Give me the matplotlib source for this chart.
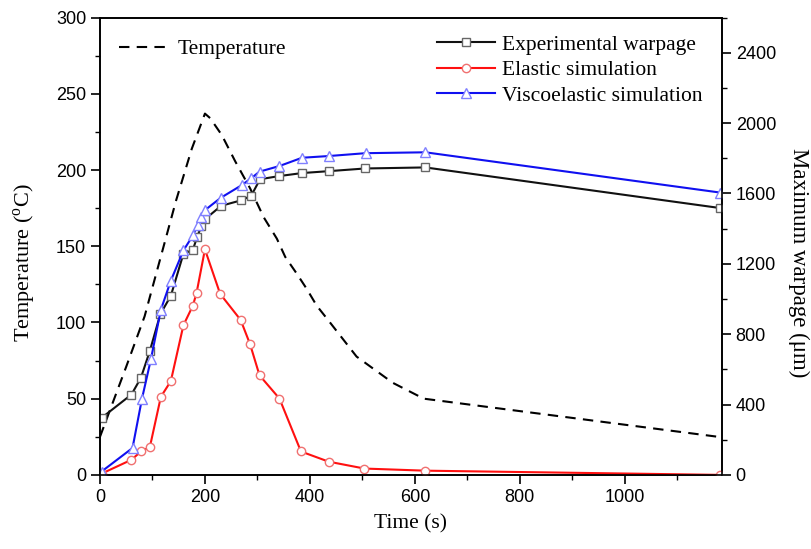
import numpy as np
import matplotlib
matplotlib.use("Agg")
import matplotlib.pyplot as plt
from matplotlib.ticker import MultipleLocator
from matplotlib.lines import Line2D

# temperature profile (left axis, degC)
temp_time = [0, 50, 85, 115, 145, 175, 200, 210, 232, 258, 286, 312, 337, 353, 375, 394, 413, 436, 489, 558, 617, 1182]
temp_val = [25, 71, 104, 142, 180, 214, 237, 234, 223, 205.5, 188, 169, 155, 143, 132, 122, 111, 101, 77.6, 60.4, 50, 24.8]

# warpage (right axis, um)
exp_time = [3, 60, 78, 95, 115, 135, 159, 177, 185, 193, 201, 231, 268, 288, 305, 342, 385, 437, 505, 620, 1182]
exp_warp = [324, 457, 552, 705, 914, 1018, 1257, 1279, 1352, 1413, 1456, 1530, 1560, 1586, 1681, 1699, 1716, 1727, 1742, 1748, 1517]

ela_time = [3, 60, 78, 95, 116, 135, 159, 177, 184, 200, 229, 268, 286, 304, 342, 383, 436, 504, 619, 1182]
ela_warp = [7, 86, 133, 158, 444, 533, 851, 962, 1034, 1282, 1029, 881, 743, 566, 434, 133, 75, 36, 24, 0]

vis_time = [3, 62, 80, 97, 116, 135, 159, 177, 186, 193, 200, 230, 270, 288, 304, 342, 385, 437, 506, 620, 1182]
vis_warp = [19, 153, 433, 657, 939, 1104, 1276, 1361, 1421, 1465, 1505, 1575, 1647, 1686, 1724, 1756, 1803, 1813, 1829, 1834, 1605]

plt.rcParams['mathtext.fontset'] = 'custom'
plt.rcParams['mathtext.rm'] = 'Liberation Serif'
serif = 'Liberation Serif'
sans = 'Liberation Sans'

fig = plt.figure(figsize=(8.11, 5.49), dpi=100)
ax = fig.add_axes([0.1233, 0.135, 0.7667, 0.833])
ax2 = ax.twinx()

ax.plot(temp_time, temp_val, color='black', lw=1.5, ls=(0, (5, 3.5)))

ax2.plot(exp_time, exp_warp, color='#111111', lw=1.5, marker='s', ms=5.5,
         mfc='white', mec='#666666', mew=1.0)
ax2.plot(ela_time, ela_warp, color='#ff1010', lw=1.5, marker='o', ms=6,
         mfc='white', mec='#f07070', mew=1.0)
ax2.plot(vis_time, vis_warp, color='#1010f0', lw=1.5, marker='^', ms=6.5,
         mfc='white', mec='#8080ff', mew=1.0)

ax.set_xlim(0, 1185)
ax.set_ylim(0, 300)
ax2.set_ylim(0, 2600)

ax.xaxis.set_major_locator(MultipleLocator(200))
ax.xaxis.set_minor_locator(MultipleLocator(100))
ax.yaxis.set_major_locator(MultipleLocator(50))
ax.yaxis.set_minor_locator(MultipleLocator(25))
ax2.yaxis.set_major_locator(MultipleLocator(400))
ax2.yaxis.set_minor_locator(MultipleLocator(200))

for a in (ax, ax2):
    a.tick_params(which='major', direction='out', length=6.5, width=1.2, labelsize=13)
    a.tick_params(which='minor', direction='out', length=3.5, width=1.0)
    for s in a.spines.values():
        s.set_linewidth(1.2)
    for lab in a.get_xticklabels() + a.get_yticklabels():
        lab.set_fontfamily(sans)
ax.tick_params(top=False, which='both')

ax.set_xlabel('Time (s)', fontfamily=serif, fontsize=15.5, labelpad=6)
ax.set_ylabel('Temperature ($^{\\mathrm{o}}$C)', fontfamily=serif, fontsize=16, labelpad=12)
ax2.set_ylabel('Maximum warpage (\u03bcm)', fontfamily=serif, fontsize=16.5,
               rotation=270, labelpad=24)
ax.yaxis.set_label_coords(-0.1, 0.463)
ax2.yaxis.set_label_coords(1.14, 0.463)

h_temp = [Line2D([], [], color='black', lw=1.5, ls=(0, (5, 3.5)))]
leg1 = ax2.legend(h_temp, ['Temperature'], loc='upper left', bbox_to_anchor=(0.0, 0.995),
                  frameon=False, handlelength=2.4, handletextpad=0.3,
                  prop={'family': serif, 'size': 15.5})
ax2.add_artist(leg1)

h_w = [
    Line2D([], [], color='#111111', lw=1.5, marker='s', ms=5.5, mfc='white', mec='#666666'),
    Line2D([], [], color='#ff1010', lw=1.5, marker='o', ms=6, mfc='white', mec='#f07070'),
    Line2D([], [], color='#1010f0', lw=1.5, marker='^', ms=6.5, mfc='white', mec='#8080ff'),
]
ax2.legend(h_w, ['Experimental warpage', 'Elastic simulation', 'Viscoelastic simulation'],
           loc='upper right', bbox_to_anchor=(1.0, 1.005), frameon=False,
           handlelength=2.7, handletextpad=0.3, labelspacing=0.25,
           prop={'family': serif, 'size': 15.5})

fig.savefig('out.png', dpi=100)
